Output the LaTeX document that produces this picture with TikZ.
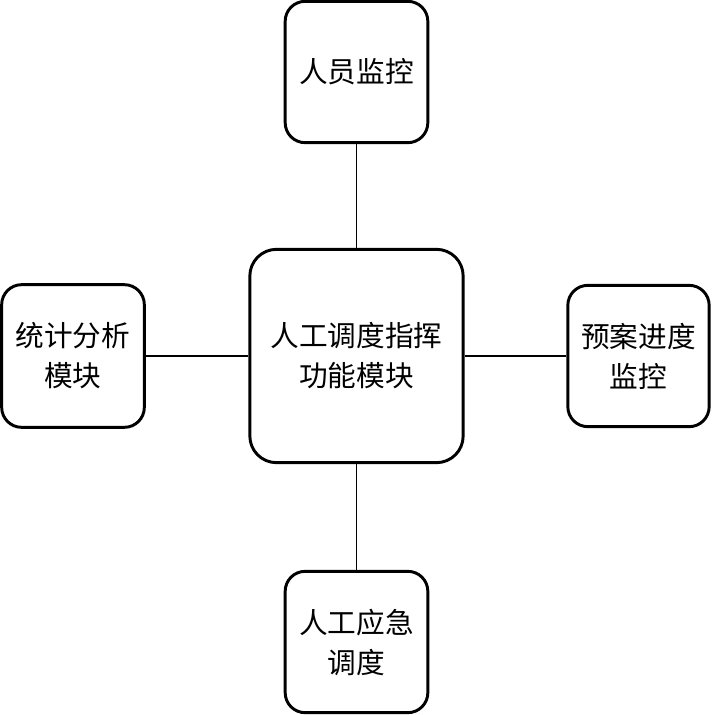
\documentclass[tikz,border=0pt]{standalone}
\usepackage{fontspec}
\newfontfamily\cjk{Noto Sans CJK SC}
\usetikzlibrary{positioning}

\begin{document}
\begin{tikzpicture}[x=0.75pt,y=-0.75pt,
  mokuai/.style={draw,line width=2.2pt,rounded corners=15pt,align=center,font=\cjk\fontsize{21.5}{30}\selectfont,inner sep=0pt},
  lian/.style={line width=0.8pt}]
\useasboundingbox(0,0)rectangle(712,715);
\node[mokuai,minimum width=160pt,minimum height=160pt,rounded corners=20pt](zhihui)at(356.5,356){人工调度指挥\\功能模块};
\node[mokuai,minimum width=107pt,minimum height=106pt](renyuan)at(356.5,72){人员监控};
\node[mokuai,minimum width=107pt,minimum height=107pt](tongji)at(73,356){统计分析\\模块};
\node[mokuai,minimum width=106pt,minimum height=106pt](yuan)at(638.5,356){预案进度\\监控};
\node[mokuai,minimum width=107pt,minimum height=106pt](yingji)at(356.5,642){人工应急\\调度};
\draw[lian](zhihui)--(renyuan);\draw[lian](zhihui)--(tongji);
\draw[lian](zhihui)--(yuan);\draw[lian](zhihui)--(yingji);
\end{tikzpicture}
\end{document}
